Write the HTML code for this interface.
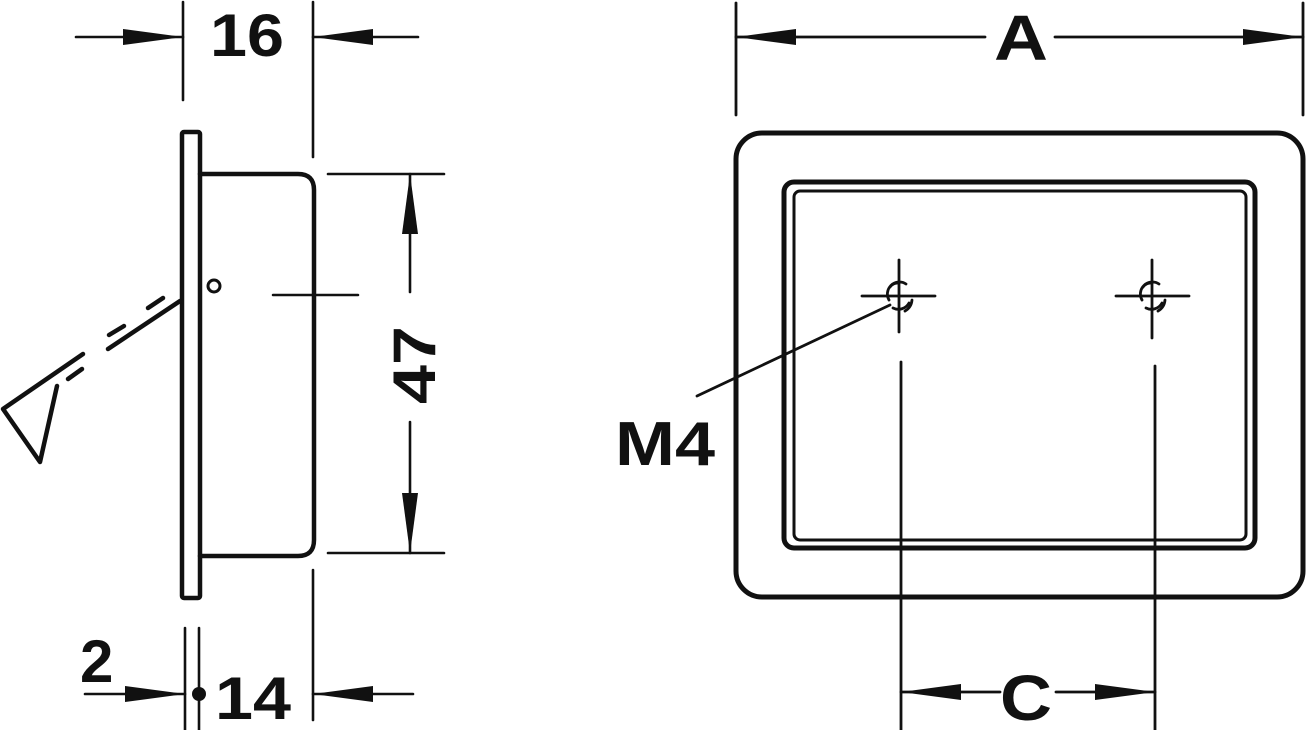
<!DOCTYPE html>
<html><head><style>html,body{margin:0;padding:0;background:#fff}svg{display:block}</style></head>
<body>
<svg width="1308" height="730" viewBox="0 0 1308 730" xmlns="http://www.w3.org/2000/svg">
<defs>
<marker id="ar" viewBox="0 0 60 16" refX="60" refY="8" markerWidth="60" markerHeight="16" markerUnits="userSpaceOnUse" orient="auto">
<path d="M0,0 L60,8 L0,16 Z" fill="#111"/>
</marker>
</defs>
<g stroke="#111" fill="none" stroke-linecap="round" stroke-linejoin="round">
<rect x="182" y="132" width="18" height="466" rx="2" stroke-width="4.5"/>
<path d="M200,174 H298 Q314,174 314,190 V540 Q314,556 298,556 H200" stroke-width="4.5"/>
<circle cx="214" cy="286" r="6" stroke-width="3"/>
<line x1="273" y1="295" x2="358" y2="295" stroke-width="2.5"/>
<g stroke-width="4.5">
<line x1="180" y1="301" x2="108" y2="349"/>
<line x1="148" y1="308" x2="163" y2="298"/>
<line x1="109" y1="335" x2="124" y2="326"/>
<line x1="68" y1="379" x2="82" y2="369"/>
<polyline points="83,354 3,409 40,462 57,386"/>
</g>
<g stroke-width="2.6">
<line x1="183" y1="2" x2="183" y2="100"/>
<line x1="313" y1="2" x2="313" y2="157"/>
<line x1="76" y1="37" x2="183" y2="37" marker-end="url(#ar)"/>
<line x1="418" y1="37" x2="313" y2="37" marker-end="url(#ar)"/>
<line x1="328" y1="174" x2="444" y2="174"/>
<line x1="328" y1="553" x2="444" y2="553"/>
<line x1="410" y1="292" x2="410" y2="174" marker-end="url(#ar)"/>
<line x1="410" y1="422" x2="410" y2="553" marker-end="url(#ar)"/>
<line x1="185" y1="628" x2="185" y2="730"/>
<line x1="199" y1="628" x2="199" y2="730"/>
<line x1="313" y1="570" x2="313" y2="720"/>
<line x1="85" y1="694" x2="185" y2="694" marker-end="url(#ar)"/>
<line x1="413" y1="694" x2="313" y2="694" marker-end="url(#ar)"/>
</g>
<circle cx="199" cy="694" r="7" fill="#111" stroke="none"/>
<rect x="736" y="133" width="567" height="464" rx="26" stroke-width="5"/>
<rect x="784" y="182" width="471" height="366" rx="10" stroke-width="5"/>
<rect x="794" y="191" width="452" height="349" rx="6" stroke-width="3"/>
<g stroke-width="2.8">
<line x1="862" y1="296" x2="935" y2="296"/>
<line x1="899" y1="260" x2="899" y2="332"/>
<line x1="1116" y1="296" x2="1189" y2="296"/>
<line x1="1152" y1="260" x2="1152" y2="338"/>
<path d="M906,284 A12,12 0 0 0 889,300 M909,303 A12,12 0 0 1 893,308"/>
<path d="M1159,284 A12,12 0 0 0 1142,300 M1162,303 A12,12 0 0 1 1146,308"/>
<path d="M890,287 A10,10 0 0 1 899,283 M912,300 A14,14 0 0 1 905,311"/>
<path d="M1143,287 A10,10 0 0 1 1152,283 M1165,300 A14,14 0 0 1 1158,311"/>
<line x1="890" y1="305" x2="697" y2="396"/>
<line x1="901" y1="362" x2="901" y2="730"/>
<line x1="1155" y1="366" x2="1155" y2="730"/>
<line x1="1000" y1="692" x2="901" y2="692" marker-end="url(#ar)"/>
<line x1="1056" y1="692" x2="1155" y2="692" marker-end="url(#ar)"/>
<line x1="736" y1="3" x2="736" y2="115"/>
<line x1="1303" y1="3" x2="1303" y2="115"/>
<line x1="985" y1="37" x2="736" y2="37" marker-end="url(#ar)"/>
<line x1="1055" y1="37" x2="1303" y2="37" marker-end="url(#ar)"/>
</g>
</g>
<g font-family="Liberation Sans, sans-serif" font-weight="bold" fill="#111">
<text x="210" y="56" font-size="60" textLength="74" lengthAdjust="spacingAndGlyphs">16</text>
<text x="0" y="0" font-size="60" textLength="78" lengthAdjust="spacingAndGlyphs" transform="translate(435,404) rotate(-90)">47</text>
<text x="80" y="682" font-size="60">2</text>
<text x="215" y="719" font-size="60" textLength="76" lengthAdjust="spacingAndGlyphs">14</text>
<text x="994" y="60" font-size="64" textLength="54" lengthAdjust="spacingAndGlyphs">A</text>
<text x="1000" y="720" font-size="64" textLength="52" lengthAdjust="spacingAndGlyphs">C</text>
<text x="615" y="465" font-size="62" textLength="100" lengthAdjust="spacingAndGlyphs">M4</text>
</g>
</svg>
</body></html>
